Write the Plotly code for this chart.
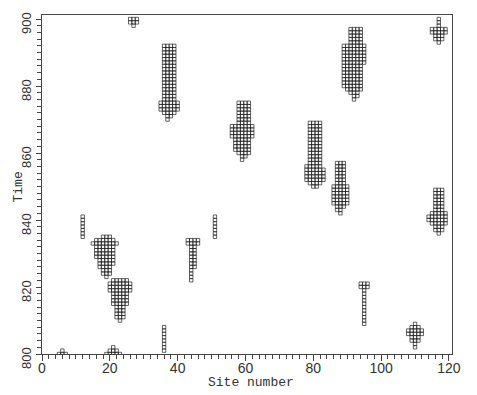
import plotly.graph_objects as go

# Each cluster: rows of (time, leftmost site, rightmost site) of occupied cells
cluster_s6 = [(801, 6, 6), (800, 5, 7)]
cluster_s21 = [(802, 21, 21), (801, 20, 22), (800, 19, 23)]
cluster_s36_low = [(808, 36, 36), (807, 36, 36), (806, 36, 36), (805, 36, 36),
                   (804, 36, 36), (803, 36, 36), (802, 36, 36), (801, 36, 36)]
cluster_s23 = [(822, 21, 25), (821, 20, 26), (820, 20, 26), (819, 20, 26),
               (818, 21, 25), (817, 21, 25), (816, 21, 25), (815, 21, 25),
               (814, 22, 24), (813, 22, 24), (812, 22, 24), (811, 22, 24),
               (810, 23, 23)]
cluster_s19 = [(835, 18, 20), (834, 16, 21), (833, 15, 22), (832, 16, 21),
               (831, 16, 21), (830, 16, 21), (829, 16, 21), (828, 17, 21),
               (827, 17, 21), (826, 17, 20), (825, 18, 20), (824, 18, 20),
               (823, 19, 19)]
cluster_s12 = [(841, 12, 12), (840, 12, 12), (839, 12, 12), (838, 12, 12),
               (837, 12, 12), (836, 12, 12), (835, 12, 12)]
cluster_s51 = [(841, 51, 51), (840, 51, 51), (839, 51, 51), (838, 51, 51),
               (837, 51, 51), (836, 51, 51), (835, 51, 51)]
cluster_s44 = [(834, 43, 46), (833, 43, 46), (832, 44, 45), (831, 44, 45),
               (830, 44, 45), (829, 44, 45), (828, 44, 45), (827, 44, 45),
               (826, 44, 45), (825, 44, 44), (824, 44, 44), (823, 44, 44),
               (822, 44, 44)]
cluster_s95 = [(821, 94, 96), (820, 94, 96), (819, 95, 95), (818, 95, 95),
               (817, 95, 95), (816, 95, 95), (815, 95, 95), (814, 95, 95),
               (813, 95, 95), (812, 95, 95), (811, 95, 95), (810, 95, 95),
               (809, 95, 95)]
cluster_s110 = [(809, 110, 110), (808, 109, 111), (807, 108, 112), (806, 108, 112),
                (805, 109, 111), (804, 109, 111), (803, 110, 110), (802, 110, 110)]
cluster_s117_low = [(849, 116, 118), (848, 116, 118), (847, 116, 118), (846, 116, 118),
                    (845, 116, 118), (844, 116, 118), (843, 116, 118), (842, 115, 119),
                    (841, 114, 119), (840, 114, 119), (839, 115, 119), (838, 116, 118),
                    (837, 116, 118), (836, 117, 117)]
cluster_s88 = [(857, 87, 89), (856, 87, 89), (855, 87, 89), (854, 87, 89),
               (853, 87, 89), (852, 87, 89), (851, 87, 89), (850, 86, 90),
               (849, 86, 90), (848, 86, 90), (847, 86, 90), (846, 86, 90),
               (845, 86, 90), (844, 87, 89), (843, 87, 88), (842, 88, 88)]
cluster_s80 = [(869, 79, 82), (868, 79, 82), (867, 79, 82), (866, 79, 82),
               (865, 79, 82), (864, 79, 82), (863, 79, 82), (862, 79, 82),
               (861, 79, 82), (860, 79, 82), (859, 79, 82), (858, 79, 82),
               (857, 79, 82), (856, 78, 82), (855, 78, 83), (854, 78, 83),
               (853, 78, 83), (852, 78, 83), (851, 79, 82), (850, 80, 81)]
cluster_s59 = [(875, 58, 61), (874, 58, 61), (873, 58, 61), (872, 58, 61),
               (871, 58, 61), (870, 58, 61), (869, 58, 61), (868, 56, 62),
               (867, 56, 62), (866, 56, 62), (865, 56, 62), (864, 57, 61),
               (863, 57, 61), (862, 57, 61), (861, 57, 61), (860, 58, 61),
               (859, 59, 60), (858, 59, 59)]
cluster_s37 = [(892, 36, 39), (891, 36, 39), (890, 36, 39), (889, 36, 39),
               (888, 36, 39), (887, 36, 39), (886, 36, 39), (885, 36, 39),
               (884, 36, 39), (883, 36, 39), (882, 36, 39), (881, 36, 39),
               (880, 36, 39), (879, 36, 39), (878, 36, 39), (877, 36, 39),
               (876, 36, 39), (875, 35, 40), (874, 35, 40), (873, 35, 40),
               (872, 36, 39), (871, 37, 38), (870, 37, 37)]
cluster_s27 = [(900, 26, 28), (899, 26, 28), (898, 27, 27)]
cluster_s92 = [(897, 91, 94), (896, 91, 94), (895, 91, 94), (894, 91, 94),
               (893, 91, 94), (892, 89, 95), (891, 89, 95), (890, 89, 95),
               (889, 89, 95), (888, 89, 95), (887, 89, 95), (886, 89, 94),
               (885, 89, 94), (884, 89, 94), (883, 89, 94), (882, 89, 94),
               (881, 89, 94), (880, 89, 94), (879, 90, 94), (878, 91, 93),
               (877, 92, 93), (876, 92, 92)]
cluster_s117_top = [(900, 117, 117), (899, 117, 117), (898, 117, 117), (897, 115, 119),
                    (896, 115, 119), (895, 116, 118), (894, 116, 118), (893, 117, 117)]

clusters = [cluster_s6, cluster_s21, cluster_s36_low, cluster_s23, cluster_s19,
            cluster_s12, cluster_s51, cluster_s44, cluster_s95, cluster_s110,
            cluster_s117_low, cluster_s88, cluster_s80, cluster_s59, cluster_s37,
            cluster_s27, cluster_s92, cluster_s117_top]

x_ticks = [0, 20, 40, 60, 80, 100, 120]
y_ticks = [800, 820, 840, 860, 880, 900]

# Expand rows into individual cells
sites, times = [], []
for cluster in clusters:
    for t, left, right in cluster:
        for s in range(left, right + 1):
            sites.append(s)
            times.append(t)

fig = go.Figure()
fig.add_trace(go.Scatter(
    x=sites,
    y=times,
    mode='markers',
    marker=dict(symbol='square-open', size=3.4, color='#222222',
                line=dict(width=0.7, color='#222222')),
    hoverinfo='skip',
    showlegend=False,
))

title_font = dict(family='Liberation Mono', size=13, color='#333333')

fig.update_xaxes(
    range=[0, 120.9],
    tickvals=x_ticks,
    ticks='outside', ticklen=6, tickwidth=1, tickcolor='#444444',
    minor=dict(dtick=2, ticks='outside', ticklen=4, tickwidth=1, tickcolor='#444444'),
    showline=True, linecolor='#444444', linewidth=1, mirror=True,
    showgrid=False, zeroline=False,
    tickfont=dict(family='Liberation Sans', size=14, color='#333333'),
    ticklabelstandoff=-5,
    ticklabeloverflow='allow',
    automargin=False,
)
fig.update_yaxes(
    range=[800, 901.2],
    tickvals=y_ticks,
    tickangle=-90,
    ticklabelshift=6,  # rotated labels: positive moves them down here
    ticks='outside', ticklen=5, tickwidth=1, tickcolor='#444444',
    minor=dict(dtick=2, ticks='outside', ticklen=4, tickwidth=1, tickcolor='#444444'),
    showline=True, linecolor='#444444', linewidth=1, mirror=True,
    showgrid=False, zeroline=False,
    tickfont=dict(family='Liberation Sans', size=13, color='#333333'),
    ticklabeloverflow='allow',
    automargin=False,
)

# Axis titles placed by hand
fig.add_annotation(text='Site number', xref='paper', yref='paper', x=0.5, y=0,
                   xanchor='center', yanchor='middle', xshift=4, yshift=-28,
                   showarrow=False, font=title_font)
fig.add_annotation(text='Time', xref='paper', yref='paper', x=0, y=0.5,
                   xanchor='center', yanchor='middle', xshift=-24, yshift=-3,
                   textangle=-90, showarrow=False, font=title_font)

# page body has an 8px margin, so the figure is sized to fit the window
fig.update_layout(
    width=469,
    height=387,
    margin=dict(l=34, r=25, t=7, b=41),
    paper_bgcolor='white',
    plot_bgcolor='white',
)

fig.write_html("out.html")
